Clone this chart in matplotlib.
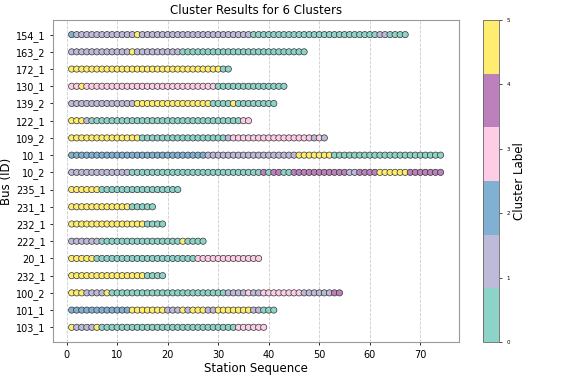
import matplotlib
matplotlib.use("Agg")
import matplotlib.pyplot as plt
import numpy as np

# bus ids, top to bottom
bus_ids = ['154_1', '163_2', '172_1', '130_1', '139_2', '122_1', '109_2', '10_1', '10_2',
           '235_1', '231_1', '232_1', '222_1', '20_1', '232_1', '100_2', '101_1', '103_1']

# cluster label runs along each route: (label, number of stations)
runs_154_1 = [(2, 1), (1, 12), (5, 1), (1, 22), (0, 25), (1, 2), (0, 4)]
runs_163_2 = [(1, 12), (5, 1), (1, 9), (0, 25)]
runs_172_1 = [(5, 30), (0, 2)]
runs_130_1 = [(3, 2), (5, 1), (3, 26), (0, 14)]
runs_139_2 = [(1, 13), (5, 15), (0, 4), (5, 1), (0, 8)]
runs_122_1 = [(5, 3), (1, 1), (0, 30), (3, 2)]
runs_109_2 = [(5, 14), (0, 17), (1, 1), (3, 16), (1, 1), (3, 1), (1, 1)]
runs_10_1 = [(2, 27), (1, 18), (5, 7), (0, 22)]
runs_10_2 = [(1, 12), (0, 26), (4, 1), (0, 1), (4, 2), (0, 2), (4, 11), (1, 2), (4, 4), (5, 6), (4, 7)]
runs_235_1 = [(5, 6), (0, 16)]
runs_231_1 = [(5, 12), (0, 5)]
runs_232_1 = [(5, 15), (0, 4)]
runs_222_1 = [(1, 6), (0, 16), (5, 1), (0, 4)]
runs_20_1 = [(5, 5), (0, 20), (3, 13)]
runs_232_1b = [(5, 15), (0, 4)]
runs_100_2 = [(5, 3), (1, 4), (5, 1), (0, 23), (1, 4), (3, 1), (1, 2), (3, 8), (1, 6), (4, 2)]
runs_101_1 = [(2, 12), (5, 7), (1, 3), (5, 1), (1, 1), (5, 3), (1, 2), (5, 7), (1, 2), (0, 3)]
runs_103_1 = [(5, 1), (1, 4), (5, 1), (0, 27), (3, 6)]

all_runs = [runs_154_1, runs_163_2, runs_172_1, runs_130_1, runs_139_2, runs_122_1,
            runs_109_2, runs_10_1, runs_10_2, runs_235_1, runs_231_1, runs_232_1,
            runs_222_1, runs_20_1, runs_232_1b, runs_100_2, runs_101_1, runs_103_1]

n_clusters = 6
cmap = plt.get_cmap('Set3', n_clusters)

fig = plt.figure(figsize=(5.66, 3.77), dpi=100)
ax = fig.add_axes([0.094, 0.093, 0.717, 0.854])
cax = fig.add_axes([0.853, 0.093, 0.028, 0.854])

for i, runs in enumerate(all_runs):
    labels = np.concatenate([[lab] * n for lab, n in runs])
    stations = np.arange(1, len(labels) + 1)
    sc = ax.scatter(stations, np.full(len(labels), i), c=labels, cmap=cmap,
                    vmin=0, vmax=n_clusters - 1, s=20, edgecolors='#333333',
                    linewidths=0.5, zorder=3)

ax.set_yticks(range(len(bus_ids)))
ax.set_yticklabels(bus_ids)
ax.invert_yaxis()
ax.tick_params(labelsize=7, length=2, width=0.6)
ax.grid(axis='x', linestyle='--', color='#cccccc', linewidth=0.6)
for sp in ax.spines.values():
    sp.set_color('#999999')

ax.set_title('Cluster Results for 6 Clusters', fontsize=8.5, pad=4)
ax.set_xlabel('Station Sequence', fontsize=8.5, labelpad=2)
ax.set_ylabel('Bus (ID)', fontsize=8.5, labelpad=2)

cb = fig.colorbar(sc, cax=cax)
cb.set_ticks(range(n_clusters))
cb.ax.tick_params(labelsize=4, length=2, width=0.5)
cb.set_label('Cluster Label', fontsize=8.5, labelpad=2)
cb.outline.set_edgecolor('#666666')
cb.outline.set_linewidth(0.6)

fig.savefig('out.png', dpi=100)
